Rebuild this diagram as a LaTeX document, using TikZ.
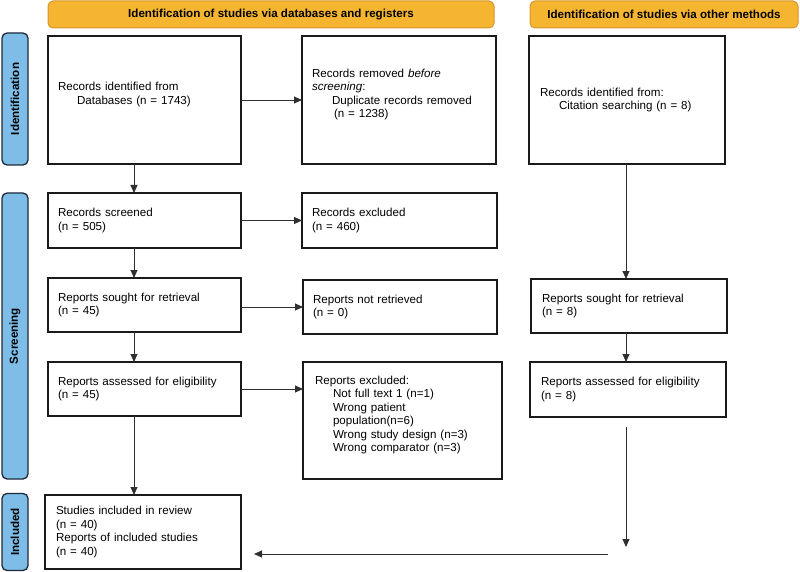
\documentclass[tikz,border=0pt]{standalone}
\usepackage{fontspec}
\setmainfont{Liberation Sans}
\usetikzlibrary{arrows.meta}
\definecolor{bannerfill}{HTML}{F6B531}
\definecolor{bannerdraw}{HTML}{D6952B}
\definecolor{sidefill}{HTML}{7DBDE8}
\definecolor{sidedraw}{HTML}{1E2A36}
\definecolor{boxdraw}{HTML}{1A1A1A}
\definecolor{arrowcol}{HTML}{303030}
\begin{document}
\begin{tikzpicture}[x=1pt,y=-1pt,
  font=\fontsize{11.6}{13.4}\selectfont,
  box/.style={draw=boxdraw, line width=1.3pt, inner xsep=10pt, inner ysep=0pt,
    align=left, anchor=north west, outer sep=0pt},
  bx/.style n args={3}{minimum width=#1pt, text width=#2pt, minimum height=#3pt},
  banner/.style={draw=bannerdraw, fill=bannerfill, rounded corners=5pt, line width=1pt,
    font=\fontsize{11.6}{13}\selectfont\bfseries, inner sep=0pt, minimum height=27pt},
  side/.style={draw=sidedraw, fill=sidefill, rounded corners=5pt, line width=1.3pt,
    inner sep=0pt, rotate=90, minimum height=26pt,
    font=\fontsize{11.6}{13}\selectfont\bfseries},
  arr/.style={draw=arrowcol, line width=0.9pt, -{Triangle[length=8pt,width=7pt]}}
]
\useasboundingbox (0,0) rectangle (800,572);

% banners
\node[banner, minimum width=446pt] (ban1) at (271,14.5) {Identification of studies via databases and registers};
\node[banner, minimum width=268pt] (ban2) at (664,14.5) {Identification of studies via other methods};

% side bars
\node[side, minimum width=132pt] (s1) at (15,99) {Identification};
\node[side, minimum width=286pt] (s2) at (15,336) {Screening};
\node[side, minimum width=77pt] (s3) at (15,532) {Included};

% boxes
\node[box, bx={193}{173}{128}] (A) at (48,36)
  {Records identified from\\\hspace*{19pt}Databases (n = 1743)\\\mbox{}};
\node[box, bx={194}{174}{128}] (B) at (302,36)
  {Records removed \textit{before}\\\textit{screening}:\\\hspace*{20pt}Duplicate records removed\\\hspace*{22pt}(n = 1238)\\\mbox{}};
\node[box, bx={194}{174}{128}, inner xsep=11pt] (C) at (529,36)
  {Records identified from:\\\hspace*{19pt}Citation searching (n = 8)};
\node[box, bx={193}{173}{55}] (D) at (48,193)
  {Records screened\\(n = 505)};
\node[box, bx={195}{175}{55}] (E) at (302,193)
  {Records excluded\\(n = 460)};
\node[box, bx={193}{173}{54}] (F) at (48,278)
  {Reports sought for retrieval\\(n = 45)};
\node[box, bx={194}{174}{54}] (G) at (303,280)
  {Reports not retrieved\\(n = 0)};
\node[box, bx={194}{174}{54}, inner xsep=11pt] (H) at (531,279)
  {Reports sought for retrieval\\(n = 8)};
\node[box, bx={193}{173}{54}] (I) at (48,362)
  {Reports assessed for eligibility\\(n = 45)};
\node[box, bx={195}{175}{117}, inner xsep=12pt] (J) at (303,362)
  {Reports excluded:\\\hspace*{18pt}Not full text 1 (n=1)\\\hspace*{18pt}Wrong patient\\\hspace*{18pt}population(n=6)\\\hspace*{18pt}Wrong study design (n=3)\\\hspace*{18pt}Wrong comparator (n=3)\\\mbox{}};
\node[box, bx={194}{174}{55}, inner xsep=11pt] (K) at (530,362)
  {Reports assessed for eligibility\\(n = 8)};
\node[box, bx={194}{174}{74}, inner xsep=11pt] (L) at (45,495)
  {Studies included in review\\(n = 40)\\Reports of included studies\\(n = 40)};

% helper coordinates
\coordinate (xL) at (134,0);
\coordinate (xR) at (626,0);
\coordinate (k1) at (626,427);
\coordinate (k2) at (626,547);
\coordinate (b1) at (608,554);

% connectors
\draw[arr] (A.east) -- (B.west);
\draw[arr] (A.south -| xL) -- (D.north -| xL);
\draw[arr] (C.south -| xR) -- (H.north -| xR);
\draw[arr] (D.east) -- (E.west);
\draw[arr] (D.south -| xL) -- (F.north -| xL);
\draw[arr] (F.east |- G.west) -- (G.west);
\draw[arr] (F.south -| xL) -- (I.north -| xL);
\draw[arr] (H.south -| xR) -- (K.north -| xR);
\draw[arr] (I.east) -- (I.east -| J.west);
\draw[arr] (I.south -| xL) -- (L.north -| xL);
\draw[arr] (k1) -- (k2);
\draw[arr, shorten >=13pt] (b1) -- (b1 -| L.east);
\end{tikzpicture}
\end{document}
